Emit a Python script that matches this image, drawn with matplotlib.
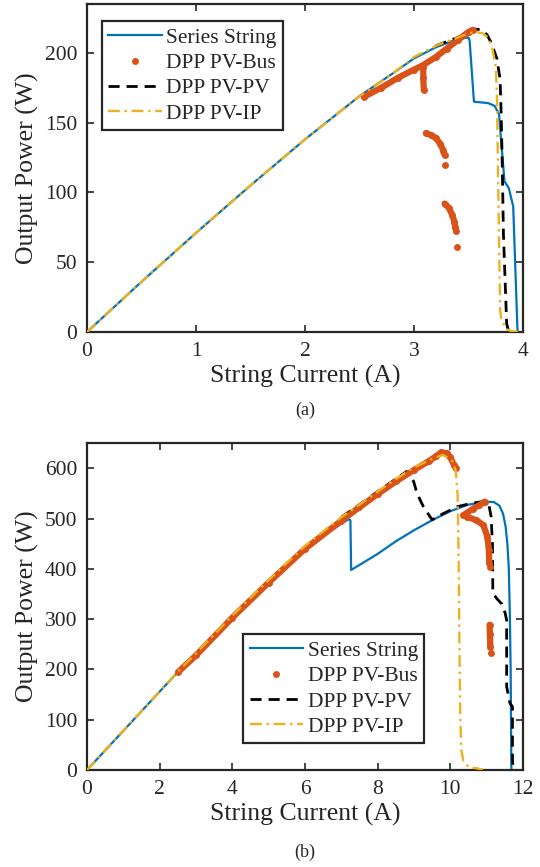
import numpy as np
import matplotlib
matplotlib.use("Agg")
import matplotlib.pyplot as plt
from matplotlib.lines import Line2D

plt.rcParams['font.family'] = ['Liberation Serif', 'DejaVu Serif']
plt.rcParams['mathtext.fontset'] = 'stix'

nan = np.nan

# ---------------- Panel (a) data ----------------
a_series_I = [0, 0.5, 1.0, 1.5, 2.0, 2.5, 2.8, 3.0, 3.2, 3.4, 3.5, 3.51, 3.55, 3.68, 3.74, 3.78, 3.83, 3.87, 3.91, 3.95]
a_series_P = [0, 36, 71, 105, 138, 169, 185, 196, 204, 210, 211, 209, 165, 164, 162, 156, 108, 103, 90, 0]

a_bus_I = [2.54, 2.7, 2.85, 3.0, 3.08, 3.2, 3.3, 3.4, 3.5, 3.54, nan,
           3.085, 3.085, 3.09, nan,
           3.11, 3.16, 3.20, 3.24, 3.27, 3.28, nan,
           3.28, nan,
           3.28, 3.32, 3.35, 3.37, 3.38, 3.385, nan,
           3.39]
a_bus_P = [168.5, 175, 182, 188, 191, 197, 203, 209, 215, 216.5, nan,
           190, 182, 173.5, nan,
           142.5, 141, 139, 135, 130, 127, nan,
           120, nan,
           92, 89, 84, 79, 75, 72.5, nan,
           61]

a_pv_I = [3.2, 3.4, 3.5, 3.57, 3.62, 3.67, 3.71, 3.76, 3.79, 3.80, 3.81, 3.82, 3.84, 3.85, 3.87]
a_pv_P = [205, 211, 215, 217, 216.5, 213, 207, 196, 181, 155, 119, 71, 28, 6, 0]

a_ip_I = [0, 0.5, 1.0, 1.5, 2.0, 2.5, 2.8, 3.0, 3.2, 3.4, 3.5, 3.57, 3.63, 3.68, 3.72, 3.75, 3.76, 3.77, 3.78, 3.79, 3.80, 3.82, 3.85, 3.90, 4.0]
a_ip_P = [0, 36, 71, 105, 138, 169, 185, 197, 205, 211, 214, 215, 214, 211, 203, 190, 171, 120, 68, 16, 10, 6, 2, 0.3, 0]

# ---------------- Panel (b) data ----------------
b_series_I = [0, 1, 2, 2.5, 3, 4, 5, 6, 6.5, 7, 7.2, 7.25, 7.27, 7.5, 8.0, 8.5, 9.0, 9.5, 10.0, 10.5, 11.0, 11.2, 11.35, 11.45, 11.52, 11.57, 11.61, 11.64, 11.66, 11.67, 11.68]
b_series_P = [0, 78, 156, 195, 228, 302, 372, 438, 466, 490, 499, 497, 398, 408, 430, 455, 477, 497, 515, 528, 534, 533, 526, 510, 485, 450, 400, 300, 200, 100, 0]

b_bus_I = [2.51, 3, 4, 5, 6, 7, 7.5, 8, 8.5, 9, 9.4, 9.6, 9.75, 9.9, 10.0, 10.1, 10.15, nan,
           10.95, 10.8, 10.63, 10.36, 10.45, 10.72, 10.91, 11.02, 11.06, 11.07, nan,
           11.09, nan,
           11.08, 11.09, 11.10, nan,
           11.11]
b_bus_P = [195, 228, 303, 373, 440, 496, 523, 549, 574, 597, 614, 624, 632, 630, 622, 607, 600, nan,
           534, 527, 520, 507, 504, 497, 487, 464, 438, 412, nan,
           404, nan,
           289, 270, 245, nan,
           232]

b_pv_I = [7.0, 7.5, 8.0, 8.5, 8.8, 8.99, 9.08, 9.21, 9.26, 9.44, 9.5, 9.8, 10.2, 10.6, 10.9, 11.05, 11.12, 11.16, 11.17, 11.28, 11.42, 11.51, 11.55, 11.55, 11.64, 11.71, 11.71, 11.73]
b_pv_P = [503, 528, 554, 579, 594, 574, 551, 531, 524, 504, 498, 510, 524, 531, 534, 532, 505, 450, 352, 341, 330, 312, 298, 166, 133, 126, 20, 0]

b_ip_I = [0, 1, 2, 2.5, 3, 4, 5, 6, 7, 7.5, 8, 8.5, 9, 9.5, 9.8, 10.05, 10.15, 10.2, 10.23, 10.25, 10.27, 10.3, 10.36, 10.5, 10.9]
b_ip_P = [0, 78, 156, 196, 232, 307, 378, 446, 503, 528, 554, 579, 602, 619, 627, 615, 595, 548, 420, 250, 120, 40, 18, 6, 1]

labels = ['Series String', 'DPP PV-Bus', 'DPP PV-PV', 'DPP PV-IP']
C_BLUE = '#0072BD'
C_ORANGE = '#D95319'
C_YELLOW = '#EDB120'
C_BLACK = '#000000'
C_AX = '#262626'

fig = plt.figure(figsize=(5.40, 8.67), dpi=100)
ax1 = fig.add_axes([87/540, 1-332/867, 436/540, 328/867])
ax2 = fig.add_axes([87/540, 1-770/867, 436/540, 326.7/867])


def draw(ax, sI, sP, bI, bP, pI, pP, iI, iP):
    ax.plot(sI, sP, color=C_BLUE, lw=1.6, zorder=2)
    ax.plot(pI, pP, color=C_BLACK, lw=2.0, dashes=(4, 2.5), zorder=3)
    ax.plot(bI, bP, color=C_ORANGE, lw=4.5, marker='o', ms=5, mew=0,
            solid_capstyle='round', solid_joinstyle='round', zorder=4)
    ax.plot(iI, iP, color=C_YELLOW, lw=1.7, dashes=(5, 2, 1, 2), zorder=5)


def style(ax, xlim, ylim, xticks, yticks):
    ax.set_xlim(*xlim)
    ax.set_ylim(*ylim)
    ax.set_xticks(xticks)
    ax.set_yticks(yticks)
    for s in ax.spines.values():
        s.set_linewidth(1.6)
        s.set_color(C_AX)
    ax.tick_params(direction='in', length=5, width=1.2, color=C_AX,
                   top=True, right=True, labelsize=15.5, pad=7, labelcolor=C_AX)
    ax.set_xlabel('String Current (A)', fontsize=18.5, color=C_AX, labelpad=3)
    ax.set_ylabel('Output Power (W)', fontsize=18.5, color=C_AX, labelpad=4)


def legend(ax, anchor):
    handles = [Line2D([], [], color=C_BLUE, lw=1.6),
               Line2D([], [], color=C_ORANGE, marker='o', ls='none', ms=5, mew=0),
               Line2D([], [], color=C_BLACK, lw=2.0, dashes=(4, 2.5)),
               Line2D([], [], color=C_YELLOW, lw=1.7, dashes=(5, 2, 1, 2))]
    leg = ax.legend(handles, labels, loc='upper left', bbox_to_anchor=anchor,
                    borderaxespad=0, fontsize=15.5, handlelength=2.5, handletextpad=0.2,
                    labelspacing=0.25, borderpad=0.3, fancybox=False, framealpha=1)
    leg.get_frame().set_edgecolor(C_AX)
    leg.get_frame().set_linewidth(1.6)
    for t in leg.get_texts():
        t.set_color(C_AX)
    leg.set_zorder(10)


draw(ax1, a_series_I, a_series_P, a_bus_I, a_bus_P, a_pv_I, a_pv_P, a_ip_I, a_ip_P)
style(ax1, (0, 4), (0, 235), [0, 1, 2, 3, 4], [0, 50, 100, 150, 200])
legend(ax1, (0.034, 0.948))

draw(ax2, b_series_I, b_series_P, b_bus_I, b_bus_P, b_pv_I, b_pv_P, b_ip_I, b_ip_P)
style(ax2, (0, 12), (0, 650), [0, 2, 4, 6, 8, 10, 12], [0, 100, 200, 300, 400, 500, 600])
legend(ax2, (0.358, 0.416))

fig.text(305/540, 1-410/867, '(a)', ha='center', va='center', fontsize=13, color=C_AX)
fig.text(305/540, 1-852/867, '(b)', ha='center', va='center', fontsize=13, color=C_AX)

fig.savefig('out.png', dpi=100)
